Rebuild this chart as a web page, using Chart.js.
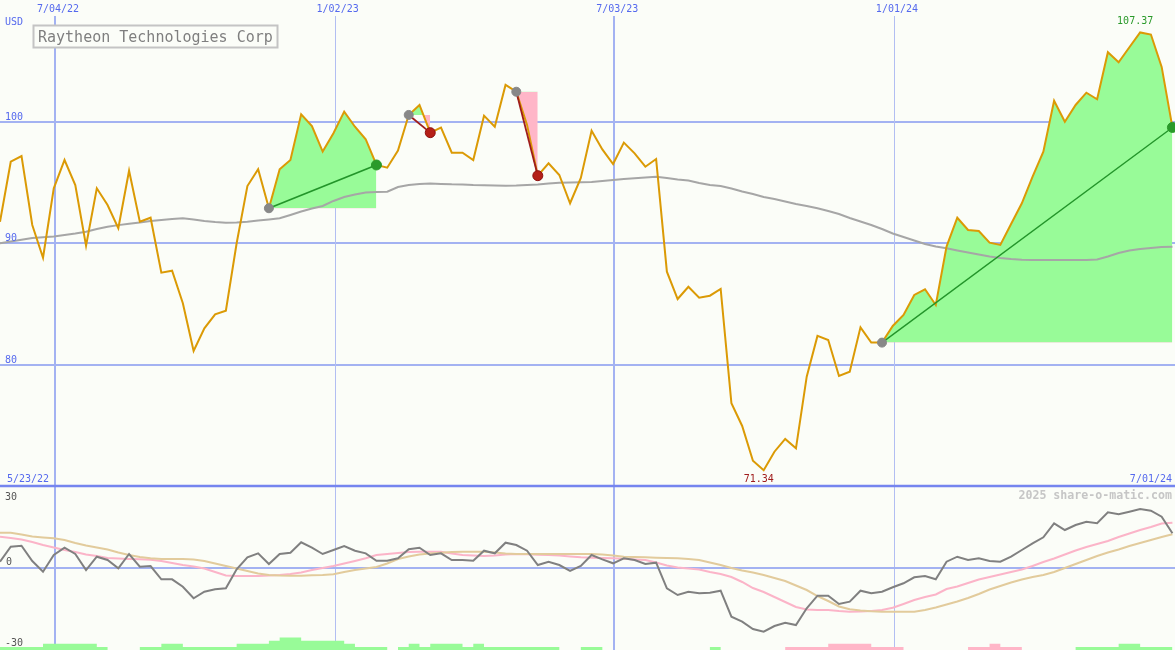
<!DOCTYPE html>
<html>
<head>
<meta charset="utf-8">
<title>Raytheon Technologies Corp</title>
<script src="https://cdn.jsdelivr.net/npm/chart.js@4.4.1/dist/chart.umd.min.js"></script>
<style>
  html, body { margin: 0; padding: 0; background: #fbfdf8; }
  #wrap { position: relative; width: 1175px; height: 650px; }
</style>
</head>
<body>
<div id="wrap"><canvas id="chart"></canvas></div>
<script>
// weekly closes, one per week (index 0 = first week shown)
const price = [
  91.79, 96.73, 97.20, 91.52, 88.83, 94.54, 96.87, 94.81, 89.82, 94.54,
  93.17, 91.25, 95.99, 91.79, 92.12, 87.60, 87.76, 85.08, 81.15, 83.02,
  84.17, 84.47, 90.02, 94.73, 96.11, 92.90, 96.11, 96.87, 100.63, 99.67,
  97.56, 99.07, 100.85, 99.61, 98.58, 96.46, 96.24, 97.64, 100.58, 101.40,
  99.12, 99.53, 97.47, 97.47, 96.87, 100.52, 99.61, 103.05, 102.49, 99.75,
  95.58, 96.60, 95.64, 93.31, 95.39, 99.28, 97.74, 96.54, 98.30, 97.42,
  96.32, 96.95, 87.68, 85.43, 86.44, 85.54, 85.70, 86.26, 76.85, 74.98,
  72.12, 71.34, 72.86, 73.91, 73.14, 79.04, 82.39, 82.06, 79.09, 79.45,
  83.10, 81.84, 81.84, 83.21, 84.12, 85.76, 86.23, 84.94, 89.74, 92.12,
  91.11, 91.03, 90.07, 89.88, 91.60, 93.31, 95.50, 97.56, 101.75, 100.02,
  101.40, 102.41, 101.87, 105.74, 104.91, 106.15, 107.37, 107.20, 104.53, 99.55
];

// long moving average (grey)
const movingAvg = [
  90.02, 90.16, 90.30, 90.45, 90.51, 90.58, 90.70, 90.82, 90.97, 91.19,
  91.38, 91.51, 91.63, 91.73, 91.85, 91.93, 92.02, 92.07, 91.98, 91.85,
  91.77, 91.71, 91.73, 91.79, 91.89, 91.98, 92.07, 92.35, 92.63, 92.88,
  93.09, 93.50, 93.83, 94.03, 94.20, 94.24, 94.26, 94.65, 94.81, 94.90,
  94.94, 94.90, 94.87, 94.86, 94.81, 94.79, 94.77, 94.76, 94.77, 94.81,
  94.86, 94.94, 95.00, 95.02, 95.04, 95.06, 95.14, 95.23, 95.31, 95.37,
  95.43, 95.50, 95.39, 95.27, 95.19, 94.98, 94.81, 94.73, 94.53, 94.28,
  94.07, 93.83, 93.66, 93.46, 93.25, 93.09, 92.90, 92.67, 92.43, 92.10,
  91.81, 91.52, 91.19, 90.82, 90.53, 90.25, 89.96, 89.75, 89.60, 89.42,
  89.26, 89.09, 88.93, 88.81, 88.72, 88.67, 88.64, 88.64, 88.64, 88.64,
  88.64, 88.64, 88.68, 88.93, 89.22, 89.42, 89.55, 89.63, 89.71, 89.74
];

// lower panel: oscillator (grey) and its two averages (pink, tan)
const oscillator = [
  2.86, 9.68, 10.14, 3.18, -1.68, 5.91, 9.23, 6.36, -0.91, 5.14,
  3.64, -0.14, 6.36, 0.59, 0.91, -5.14, -5.14, -8.50, -13.77, -10.77,
  -9.68, -9.23, -0.59, 4.86, 6.68, 1.82, 6.36, 6.95, 11.68, 9.23,
  6.36, 8.18, 10.00, 7.86, 6.68, 3.32, 3.32, 4.41, 8.50, 9.23,
  5.91, 6.68, 3.64, 3.64, 3.32, 7.86, 6.68, 11.50, 10.45, 7.86,
  1.36, 2.86, 1.36, -1.36, 0.91, 5.91, 3.95, 2.14, 4.41, 3.64,
  1.82, 2.41, -9.23, -12.27, -10.77, -11.50, -11.23, -10.32, -22.14, -24.41,
  -27.73, -28.95, -26.36, -24.86, -25.91, -18.32, -12.59, -12.59, -16.36, -15.32,
  -10.32, -11.50, -10.77, -8.77, -6.95, -4.23, -3.64, -5.14, 2.86, 5.14,
  3.64, 4.41, 3.18, 2.86, 5.14, 8.18, 11.23, 13.95, 20.32, 17.27,
  19.55, 21.05, 20.32, 25.32, 24.41, 25.59, 26.82, 26.05, 23.32, 15.77
];
const oscFast = [
  14.23, 13.64, 12.95, 11.82, 10.45, 9.32, 8.18, 7.27, 6.14, 5.45,
  4.55, 4.32, 4.09, 3.95, 3.77, 3.18, 2.27, 1.36, 0.68, -0.23,
  -1.82, -3.41, -3.64, -3.64, -3.64, -3.41, -3.18, -2.73, -2.05, -0.91,
  0.00, 0.91, 2.05, 3.18, 4.41, 5.91, 6.36, 6.82, 7.27, 7.41,
  7.41, 7.41, 6.59, 5.91, 5.68, 5.45, 5.68, 6.14, 6.36, 6.23,
  6.05, 5.91, 5.68, 5.23, 4.86, 4.68, 4.55, 4.41, 4.18, 3.86,
  3.64, 2.50, 1.14, 0.23, -0.23, -0.68, -1.82, -2.73, -4.09, -6.36,
  -9.09, -10.91, -13.18, -15.45, -17.73, -18.86, -19.09, -19.09, -19.55, -19.86,
  -19.77, -19.55, -19.09, -18.05, -16.36, -14.55, -13.18, -12.05, -9.55, -8.41,
  -6.82, -5.23, -4.09, -2.95, -1.82, -0.68, 0.91, 2.73, 4.32, 6.14,
  7.95, 9.55, 10.91, 12.27, 14.09, 15.68, 17.27, 18.64, 20.23, 20.59
];
const oscSlow = [
  16.05, 16.05, 15.23, 14.32, 13.86, 13.50, 12.73, 11.36, 10.23, 9.32,
  8.41, 7.05, 5.91, 5.00, 4.41, 4.09, 4.09, 4.09, 3.86, 3.18,
  2.05, 0.91, -0.23, -1.36, -2.50, -3.18, -3.41, -3.50, -3.50, -3.32,
  -3.18, -2.86, -1.82, -0.91, -0.23, 0.45, 2.05, 4.09, 5.23, 6.14,
  6.59, 6.95, 7.27, 7.41, 7.41, 7.41, 7.05, 6.59, 6.36, 6.36,
  6.36, 6.36, 6.36, 6.36, 6.36, 6.36, 6.14, 5.68, 5.14, 5.00,
  4.86, 4.68, 4.55, 4.41, 4.09, 3.64, 2.50, 1.36, 0.00, -1.14,
  -2.05, -3.18, -4.55, -5.91, -7.95, -10.00, -12.73, -15.00, -17.50, -18.77,
  -19.32, -19.68, -19.86, -19.86, -19.86, -19.86, -19.09, -17.95, -16.59, -15.23,
  -13.64, -11.82, -9.77, -8.18, -6.59, -5.23, -4.09, -3.18, -1.82, 0.00,
  1.82, 3.64, 5.45, 7.05, 8.41, 10.00, 11.36, 12.73, 14.09, 15.32
];

// signal strength blocks along the bottom
const signalUp = [
  1, 1, 1, 1, 2, 2, 2, 2, 2, 1,
  0, 0, 0, 1, 1, 2, 2, 1, 1, 1,
  1, 1, 2, 2, 2, 3, 4, 4, 3, 3,
  3, 3, 2, 1, 1, 1, 0, 1, 2, 1,
  2, 2, 2, 1, 2, 1, 1, 1, 1, 1,
  1, 1, 0, 0, 1, 1, 0, 0, 0, 0,
  0, 0, 0, 0, 0, 0, 1, 0, 0, 0,
  0, 0, 0, 0, 0, 0, 0, 0, 0, 0,
  0, 0, 0, 0, 0, 0, 0, 0, 0, 0,
  0, 0, 0, 0, 0, 0, 0, 0, 0, 0,
  1, 1, 1, 1, 2, 2, 1, 1, 1, 1
];
const signalDown = [
  0, 0, 0, 0, 0, 0, 0, 0, 0, 0,
  0, 0, 0, 0, 0, 0, 0, 0, 0, 0,
  0, 0, 0, 0, 0, 0, 0, 0, 0, 0,
  0, 0, 0, 0, 0, 0, 0, 0, 0, 0,
  0, 0, 0, 0, 0, 0, 0, 0, 0, 0,
  0, 0, 0, 0, 0, 0, 0, 0, 0, 0,
  0, 0, 0, 0, 0, 0, 0, 0, 0, 0,
  0, 0, 0, 1, 1, 1, 1, 2, 2, 2,
  2, 1, 1, 1, 0, 0, 0, 0, 0, 0,
  1, 1, 2, 1, 1, 0, 0, 0, 0, 0,
  0, 0, 0, 0, 0, 0, 0, 0, 0, 0
];

// trend segments (start / end week index)
const trendStart = [25, 38, 48, 82];
const trendEnd = [35, 40, 50, 109];

// axis labels
const dateLabels = ["7/04/22", "1/02/23", "7/03/23", "1/01/24"];
const datePos = [5.11, 31.11, 57.11, 83.11];
const firstDate = "5/23/22";
const lastDate = "7/01/24";
const priceTicks = [100, 90, 80];
const oscTicks = [30, 0, -30];

const BG = "#fbfdf8";
const GRID = "#a3b2f2";
const BLUE_TXT = "#5569ee";
const MONO = "'DejaVu Sans Mono', 'Liberation Mono', monospace";

const pts = arr => arr.map((v, i) => ({ x: i, y: v }));

const datasets = [];

trendStart.forEach((s, k) => {
    const e = trendEnd[k];
    const base = price[s];
    const up = price[e] >= base;
    datasets.push({
        data: pts(price).slice(s, e + 1),
        yAxisID: "y",
        borderColor: "rgba(0,0,0,0)",
        borderWidth: 0,
        pointRadius: 0,
        fill: { target: { value: base }, above: "#98fb98", below: "#ffb6c8" },
        order: 9,
    });
    datasets.push({
        data: [{ x: s, y: base }, { x: e, y: price[e] }],
        yAxisID: "y",
        borderColor: up ? "#23952a" : "#9e1c1c",
        borderWidth: k === 3 ? 1.4 : 1.8,
        pointRadius: [4.5, 5],
        pointBackgroundColor: ["#888888", up ? "#2a9a2a" : "#b52018"],
        pointBorderColor: ["#888888", up ? "#2a9a2a" : "#8e1010"],
        pointBorderWidth: 1,
        fill: false,
        order: 0,
    });
});

// each block spans from its week to the next one
datasets.push({
    data: pts(signalUp), yAxisID: "yb", stepped: "before",
    borderColor: "rgba(0,0,0,0)", borderWidth: 0, pointRadius: 0,
    fill: "origin", backgroundColor: "#98fb98", order: 8,
});
datasets.push({
    data: pts(signalDown), yAxisID: "yb", stepped: "before",
    borderColor: "rgba(0,0,0,0)", borderWidth: 0, pointRadius: 0,
    fill: "origin", backgroundColor: "#ffb6c8", order: 8,
});
datasets.push({
    data: pts(movingAvg), yAxisID: "y", borderColor: "#a6a6a6",
    borderWidth: 2, pointRadius: 0, fill: false, order: 5,
});
datasets.push({
    data: pts(oscSlow), yAxisID: "yl", borderColor: "#e2cb9c",
    borderWidth: 2, pointRadius: 0, fill: false, order: 4,
});
datasets.push({
    data: pts(oscFast), yAxisID: "yl", borderColor: "#fbb4c8",
    borderWidth: 2, pointRadius: 0, fill: false, order: 4,
});
datasets.push({
    data: pts(oscillator), yAxisID: "yl", borderColor: "#808080",
    borderWidth: 2, pointRadius: 0, fill: false, order: 3,
});
datasets.push({
    data: pts(price), yAxisID: "y", borderColor: "#db9a05",
    borderWidth: 2, pointRadius: 0, fill: false, order: 2,
});

function hline(ctx, x1, x2, y, w, c) {
    ctx.beginPath();
    ctx.lineWidth = w;
    ctx.strokeStyle = c;
    ctx.moveTo(x1, y);
    ctx.lineTo(x2, y);
    ctx.stroke();
}
function vline(ctx, x, y1, y2, w, c) {
    ctx.beginPath();
    ctx.lineWidth = w;
    ctx.strokeStyle = c;
    ctx.moveTo(x, y1);
    ctx.lineTo(x, y2);
    ctx.stroke();
}

const panels = {
    id: "panels",
    beforeDraw(chart) {
        const { ctx, width, height } = chart;
        ctx.save();
        ctx.fillStyle = BG;
        ctx.fillRect(0, 0, width, height);
        ctx.restore();
    },
    beforeDatasetsDraw(chart) {
        const { ctx, chartArea: a } = chart;
        const { x, y, yl } = chart.scales;
        ctx.save();
        priceTicks.forEach(v => {
            hline(ctx, a.left, a.right, Math.round(y.getPixelForValue(v)), 2, GRID);
        });
        datePos.forEach((p, i) => {
            const px = Math.round(x.getPixelForValue(p));
            if (i % 2 === 0) vline(ctx, px, 16, a.bottom, 2, GRID);
            else vline(ctx, px + 0.5, 16, a.bottom, 1, "#b2bef2");
        });
        hline(ctx, a.left, a.right, Math.round(yl.getPixelForValue(0)), 2, GRID);
        hline(ctx, a.left, a.right, Math.round(y.getPixelForValue(70)), 2.5, "#7585ef");
        ctx.restore();
    },
    afterDatasetsDraw(chart) {
        const { ctx, chartArea: a } = chart;
        const { x, y, yl } = chart.scales;
        ctx.save();
        ctx.font = "10px " + MONO;
        ctx.textBaseline = "alphabetic";

        // date labels along the top
        ctx.fillStyle = BLUE_TXT;
        ctx.textAlign = "center";
        dateLabels.forEach((d, i) => ctx.fillText(d, x.getPixelForValue(datePos[i]) + 3, 12));
        ctx.textAlign = "left";
        ctx.fillText("USD", 5, 25);
        priceTicks.forEach(v => ctx.fillText(String(v), 5, Math.round(y.getPixelForValue(v)) - 2));
        const divY = Math.round(y.getPixelForValue(70));
        ctx.fillText(firstDate, 7, divY - 4);
        ctx.textAlign = "right";
        ctx.fillText(lastDate, a.right - 3, divY - 4);

        // oscillator ticks
        ctx.fillStyle = "#555555";
        ctx.textAlign = "left";
        ctx.fillText(String(oscTicks[0]), 5, Math.round(yl.getPixelForValue(oscTicks[0])) - 2);
        ctx.fillText(String(oscTicks[1]), 6, Math.round(yl.getPixelForValue(oscTicks[1])) - 3);
        ctx.fillText(String(oscTicks[2]), 5, a.bottom - 4);

        // high / low marks
        const hi = Math.max(...price), lo = Math.min(...price);
        const hiI = price.indexOf(hi), loI = price.indexOf(lo);
        ctx.textAlign = "center";
        ctx.fillStyle = "#2a9a2a";
        ctx.fillText(hi.toFixed(2), x.getPixelForValue(hiI) - 5, y.getPixelForValue(hi) - 8);
        ctx.fillStyle = "#a01c1c";
        ctx.fillText(lo.toFixed(2), x.getPixelForValue(loI) - 5, divY - 4);

        // watermark
        ctx.font = "bold 11.6px " + MONO;
        ctx.fillStyle = "#c6c6c6";
        ctx.textAlign = "right";
        ctx.fillText("2025 share-o-matic.com", a.right - 3, divY + 13);

        // title box
        ctx.fillStyle = BG;
        ctx.fillRect(33, 25, 244, 23);
        ctx.lineWidth = 2;
        ctx.strokeStyle = "#c4c4c4";
        ctx.strokeRect(33.5, 25.5, 244, 22);
        ctx.font = "15px " + MONO;
        ctx.fillStyle = "#7f7f7f";
        ctx.textAlign = "left";
        ctx.fillText("Raytheon Technologies Corp", 38, 42);
        ctx.restore();
    }
};

new Chart(document.getElementById("chart"), {
    type: "line",
    data: { datasets },
    options: {
        responsive: true,
        maintainAspectRatio: false,
        animation: false,
        events: [],
        layout: { padding: 0, autoPadding: false },
        plugins: { legend: { display: false }, tooltip: { enabled: false } },
        scales: {
            x: { type: "linear", min: 0, max: 109.24, display: false },
            y: { type: "linear", min: 56.54, max: 110.04, display: false },
            yl: { type: "linear", min: -37.27, max: 258.18, display: false },
            yb: { type: "linear", min: 0, max: 209.7, display: false },
        },
    },
    plugins: [panels],
});
</script>
</body>
</html>
